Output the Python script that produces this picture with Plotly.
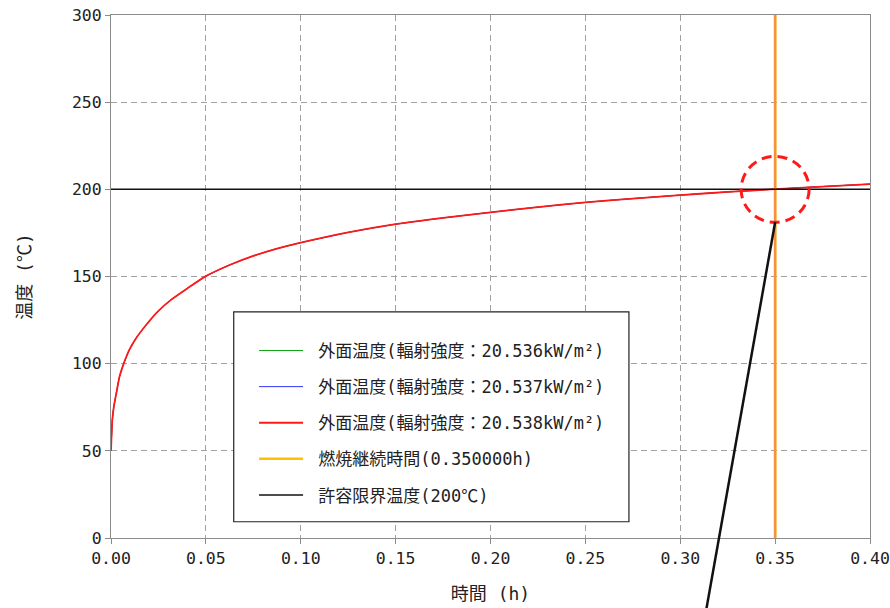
import plotly.graph_objects as go

# ---- data ----
time_h = [0, 0.0007, 0.0015, 0.0028, 0.0045, 0.0067, 0.0097, 0.0132, 0.0185, 0.0246,
          0.0316, 0.0404, 0.05, 0.0625, 0.075, 0.0875, 0.10, 0.125, 0.15, 0.175,
          0.20, 0.225, 0.25, 0.275, 0.30, 0.325, 0.35, 0.375, 0.40]
temp_20536 = [50, 67.8, 75.4, 83, 92.6, 100, 108, 114.6, 122.2, 129.9,
              136.6, 143.3, 150.2, 156.6, 161.8, 166.0, 169.4, 175.3, 180, 183.6,
              186.8, 189.8, 192.5, 194.7, 196.7, 198.5, 200.1, 201.6, 203]
temp_20537 = list(temp_20536)
temp_20538 = list(temp_20536)

burn_time = 0.35
limit_temp = 200
x_range = [0, 0.40]
y_range = [0, 300]
x_ticks = [0, 0.05, 0.10, 0.15, 0.20, 0.25, 0.30, 0.35, 0.40]
x_ticklabels = ["0.00", "0.05", "0.10", "0.15", "0.20", "0.25", "0.30", "0.35", "0.40"]
y_ticks = [0, 50, 100, 150, 200, 250, 300]

series_names = ["外面温度(輻射強度：20.536kW/m²)",
                "外面温度(輻射強度：20.537kW/m²)",
                "外面温度(輻射強度：20.538kW/m²)"]
series_colors = ["#10a010", "#3030ff", "#ff1a1a"]
series_widths = [1, 1, 1.8]
burn_name = "燃焼継続時間(0.350000h)"
limit_name = "許容限界温度(200℃)"

MIX = "DejaVu Sans Mono, Noto Sans CJK JP"
MONO = "DejaVu Sans Mono"
PAD = "\u2002"

fig = go.Figure()
for i, (name, col, w, temps) in enumerate(zip(series_names, series_colors, series_widths,
                                              [temp_20536, temp_20537, temp_20538])):
    fig.add_trace(go.Scatter(x=time_h, y=temps, mode="lines", name=PAD + name,
                             line=dict(color=col, width=w, shape="spline", smoothing=0.5),
                             legendgroup=f"g{i}"))

# burn time vertical line (legend colour yellow, drawn colour orange)
fig.add_trace(go.Scatter(x=[burn_time, burn_time], y=y_range, mode="lines",
                         name=PAD + burn_name, line=dict(color="#ffc000", width=2.5),
                         legendgroup="g3"))
fig.add_trace(go.Scatter(x=[burn_time, burn_time], y=y_range, mode="lines",
                         showlegend=False, line=dict(color="#f5923e", width=2.5),
                         hoverinfo="skip"))
# limit temperature horizontal line
fig.add_trace(go.Scatter(x=x_range, y=[limit_temp, limit_temp], mode="lines",
                         name=PAD + limit_name, line=dict(color="#111111", width=1.5),
                         legendgroup="g4"))

shapes = [
    # legend frame
    dict(type="rect", xref="paper", yref="paper", x0=0.1617, x1=0.6824,
         y0=0.0311, y1=0.4323, line=dict(color="#222", width=1.2),
         fillcolor="white", layer="above"),
    # dashed red circle marking intersection
    dict(type="circle", xref="x", yref="y", xsizemode="pixel", ysizemode="pixel",
         xanchor=burn_time, yanchor=limit_temp, x0=-34, x1=34, y0=-33, y1=33,
         line=dict(color="#ff1a1a", width=3, dash="10px,6px"), layer="above"),
    # callout line
    dict(type="line", xref="paper", yref="paper", x0=0.875, y0=0.6036,
         x1=0.7838, y1=-0.1408, line=dict(color="#111", width=2.5), layer="above"),
]

axis_common = dict(showline=True, linecolor="#8c8c8c", linewidth=1, mirror=True,
                   showgrid=True, gridcolor="#a0a0a0", gridwidth=1, griddash="6px,4px",
                   zeroline=False, ticks="outside", ticklen=5, tickcolor="#8c8c8c",
                   automargin=False, ticklabeloverflow="allow",
                   tickfont=dict(family=MONO, size=16.5, color="#222"))

fig.update_layout(
    width=890, height=608,
    margin=dict(l=111, r=20, t=15, b=70),
    paper_bgcolor="white", plot_bgcolor="white",
    shapes=shapes,
    showlegend=True,
    legend=dict(x=0.1885, y=0.392, xanchor="left", yanchor="top",
                bgcolor="rgba(0,0,0,0)", borderwidth=0,
                font=dict(family=MIX, size=17, color="#222"),
                traceorder="grouped", tracegroupgap=11, itemwidth=44),
    xaxis=dict(range=x_range, tickvals=x_ticks, ticktext=x_ticklabels,
               title=dict(text="時間 (h)", font=dict(family=MIX, size=18, color="#222"),
                          standoff=20),
               **axis_common),
    yaxis=dict(range=y_range, tickvals=y_ticks,
               title=dict(text="温度 (℃)", font=dict(family=MIX, size=18, color="#222"),
                          standoff=35),
               **axis_common),
)

fig.write_html("out.html", config={"displayModeBar": False},
               post_script="document.body.style.margin='0';document.body.style.overflow='hidden';")
